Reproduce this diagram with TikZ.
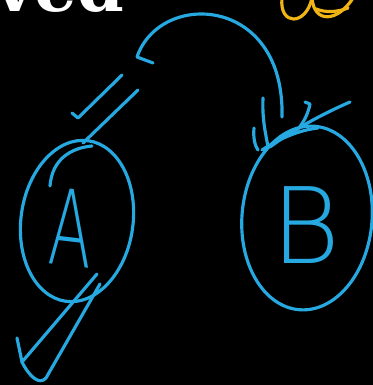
\documentclass[tikz,border=0pt]{standalone}
\usepackage{fontspec}
\newfontfamily\handfont{DejaVu Sans ExtraLight}
\newfontfamily\heavyfont{DejaVu Serif}
\usetikzlibrary{shapes.geometric}
\definecolor{inkblue}{RGB}{38,168,224}
\definecolor{inkgold}{RGB}{240,180,20}
\begin{document}
\begin{tikzpicture}[x=0.01cm, y=-0.01cm, line cap=round, line join=round,
    ink/.style={draw=inkblue, line width=0.9pt},
    gold/.style={draw=inkgold, line width=0.9pt},
    blob/.style={ink, ellipse, inner sep=0pt},
    letter/.style={text=inkblue, inner sep=0pt, font=\handfont\fontsize{30}{30}\selectfont}]
    % 1. 背景与裁切
    \useasboundingbox (0,0) rectangle (373,385);
    \fill[black] (0,0) rectangle (373,385);
    \clip (0,0) rectangle (373,385);

    % 2. 顶部残留文字
    \node[anchor=base west, inner sep=0pt, text=white, font=\heavyfont\bfseries\fontsize{19}{19}\selectfont] (title) at (-5,12) {ved};
    \draw[gold] (282,-2) .. controls (279,26) and (306,26) .. (312,-2);
    \draw[gold] (312,-2) .. controls (314,24) and (338,22) .. (353,-2);
    \draw[gold] (316,9) .. controls (326,13) and (338,12) .. (348,8);

    % 3. 两个圆圈与字母
    \node[blob, minimum width=1.12cm, minimum height=1.62cm, rotate=-8] (A) at (77,221) {};
    \node[letter, xscale=0.6, rotate=-4] (labA) at (71,228) {A};
    \node[blob, minimum width=1.30cm, minimum height=1.84cm, rotate=-5] (B) at (307,218) {};
    \node[letter] (labB) at (306,225) {B};
    \draw[ink] (50,186) .. controls (52,160) and (70,148) .. (92,146);

    % 4. 弯箭头 (A -> B)
    \coordinate (arcS) at (137,57);
    \coordinate (arcE) at (282,117);
    \draw[ink] (153,63) -- (arcS) .. controls (160,-10) and (285,-5) .. (arcE);
    \draw[ink] (263,98) .. controls (262,120) and (266,135) .. (268,147);
    \draw[ink] (254,128) .. controls (253,138) and (255,146) .. (258,150);
    \draw[ink] (305,102) -- (310,104) .. controls (308,115) and (302,125) .. (297,130);
    \draw[ink] (350,102) .. controls (320,115) and (290,132) .. (270,147);
    \draw[ink] (262,150) .. controls (280,138) and (300,130) .. (318,128);

    % 5. 勾号
    \draw[ink] (72,113) -- (78,118) -- (122,75);
    \draw[ink] (138,90) -- (83,143);
    \draw[ink] (17,338) -- (22,362) -- (97,274);
    \draw[ink] (22,362) .. controls (30,378) and (40,385) .. (46,378) -- (100,284);
\end{tikzpicture}
\end{document}
